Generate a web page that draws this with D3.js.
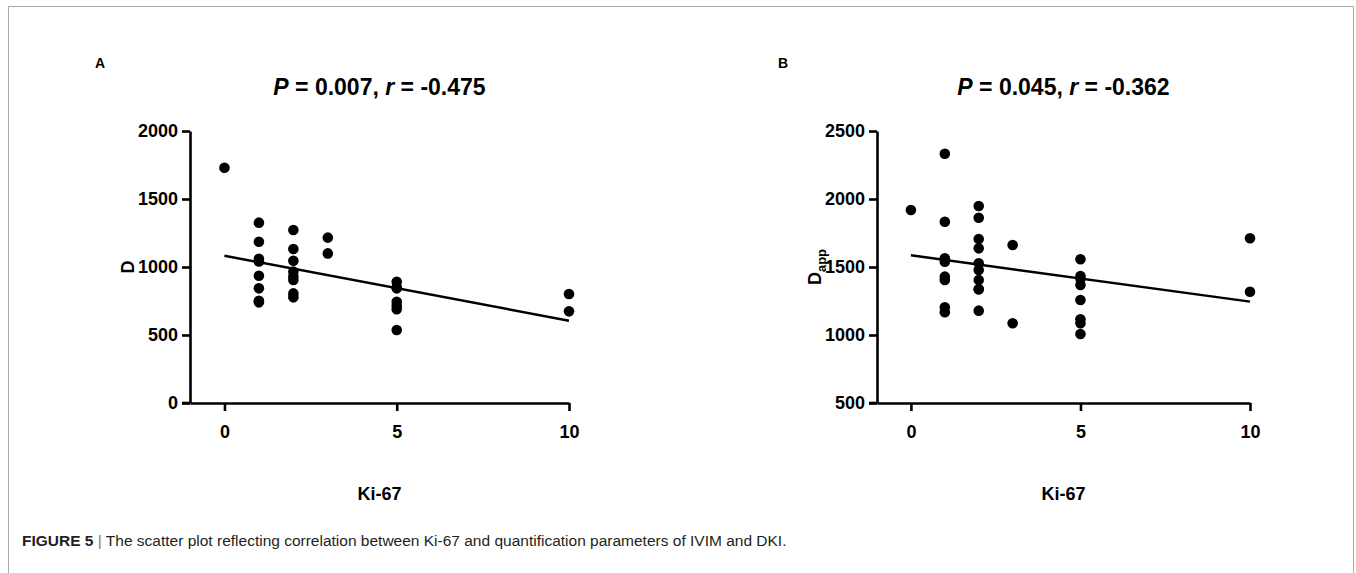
<!DOCTYPE html>
<html>
<head>
<meta charset="utf-8">
<script src="https://cdn.jsdelivr.net/npm/d3@7"></script>
<style>
  body { margin: 0; background: #fff; }
  svg { display: block; }
  text { font-family: "Liberation Sans", Arial, sans-serif; }
</style>
</head>
<body>
<div id="chart"></div>
<script>
// Ki-67 values on x, one entry per patient
var kiA = [0, 1,1,1,1,1,1,1,1, 2,2,2,2,2,2,2,2, 3,3, 5,5,5,5,5,5,5, 10,10];
var dA  = [1730, 1326,1186,1060,1040,936,843,752,740, 1272,1132,1046,966,930,904,806,777, 1216,1100, 892,851,843,745,715,689,537, 801,674];

var kiB = [0, 1,1,1,1,1,1,1,1, 2,2,2,2,2,2,2,2,2,2, 3,3, 5,5,5,5,5,5,5,5, 10,10];
var dB  = [1919, 2333,1833,1564,1539,1429,1404,1204,1167, 1948,1862,1706,1637,1527,1478,1404,1336,1336,1179, 1662,1086, 1557,1434,1415,1368,1257,1115,1086,1007, 1711,1318];

// fitted line end points (at Ki-67 = 0 and 10)
var fitA = [[0, 1083], [10, 605]];
var fitB = [[0, 1586], [10, 1245]];

var xTicks = [0, 5, 10];
var yTicksA = [0, 500, 1000, 1500, 2000];
var yTicksB = [500, 1000, 1500, 2000, 2500];

var W = 1356, H = 573;
var svg = d3.select("#chart").append("svg").attr("width", W).attr("height", H);

// frame
svg.append("path")
    .attr("d", "M8.5," + H + "V6.5H1353.5V" + H)
    .attr("fill", "none").attr("stroke", "#aaa").attr("stroke-width", 1);

function makePanel(opt) {
    var x = d3.scaleLinear().domain([-1, 10]).range([opt.x0, opt.x1]);
    var y = d3.scaleLinear().domain(opt.yDomain).range([403, 131]);
    var g = svg.append("g");

    var xAxis = g.append("g").attr("transform", "translate(0,403)")
        .call(d3.axisBottom(x).tickValues(xTicks).tickFormat(d3.format("d"))
            .tickSize(8).tickSizeOuter(0).tickPadding(14));
    var yAxis = g.append("g").attr("transform", "translate(" + opt.x0 + ",0)")
        .call(d3.axisLeft(y).tickValues(opt.yTicks).tickFormat(d3.format("d"))
            .tickSize(8).tickSizeOuter(0).tickPadding(4));

    [xAxis, yAxis].forEach(function(a) {
        a.attr("font-size", 18).attr("font-family", "'Liberation Sans', Arial, sans-serif");
        a.select(".domain").attr("stroke", "#000").attr("stroke-width", 2.6);
        a.selectAll(".tick line").attr("stroke", "#000").attr("stroke-width", 2.6);
        a.selectAll(".tick text").attr("fill", "#000").style("font-weight", "bold");
    });
    // extend x axis to meet the y tick at the origin
    g.append("line").attr("x1", opt.x0 - 8).attr("x2", opt.x0).attr("y1", 403).attr("y2", 403)
        .attr("stroke", "#000").attr("stroke-width", 2.6);

    g.append("line")
        .attr("x1", x(opt.fit[0][0])).attr("y1", y(opt.fit[0][1]))
        .attr("x2", x(opt.fit[1][0])).attr("y2", y(opt.fit[1][1]))
        .attr("stroke", "#000").attr("stroke-width", 2.4);

    g.selectAll("circle.pt").data(opt.xs).enter().append("circle")
        .attr("class", "pt")
        .attr("cx", function(d) { return x(d); })
        .attr("cy", function(d, i) { return y(opt.ys[i]); })
        .attr("r", 5.3)
        .attr("fill", "#000");

    var cx = (opt.x0 + opt.x1) / 2;
    var t = g.append("text").attr("x", cx).attr("y", 95).attr("text-anchor", "middle")
        .style("font-size", "23px").style("font-weight", "bold");
    t.append("tspan").style("font-style", "italic").text("P");
    t.append("tspan").text(" = " + opt.p + ", ");
    t.append("tspan").style("font-style", "italic").text("r");
    t.append("tspan").text(" = " + opt.r);

    g.append("text").attr("x", opt.labX).attr("y", 68)
        .style("font-size", "14px").style("font-weight", "bold").text(opt.letter);

    g.append("text").attr("x", cx).attr("y", 500).attr("text-anchor", "middle")
        .style("font-size", "18px").style("font-weight", "bold").text("Ki-67");

    var yl = g.append("text").attr("transform", "translate(" + opt.yLabX + ",267) rotate(-90)")
        .attr("text-anchor", "middle").style("font-size", "18px").style("font-weight", "bold");
    yl.append("tspan").text("D");
    if (opt.sub) {
        yl.append("tspan").attr("dy", 5).style("font-size", "13px").text(opt.sub);
    }
}

makePanel({ x0: 190, x1: 569, yDomain: [0, 2000], yTicks: yTicksA, xs: kiA, ys: dA, fit: fitA,
            p: "0.007", r: "-0.475", letter: "A", labX: 95, yLabX: 134, sub: null });
makePanel({ x0: 877, x1: 1250, yDomain: [500, 2500], yTicks: yTicksB, xs: kiB, ys: dB, fit: fitB,
            p: "0.045", r: "-0.362", letter: "B", labX: 778, yLabX: 821, sub: "app" });

// caption
var cap = svg.append("text").attr("x", 22).attr("y", 546)
    .style("font-size", "15.5px").attr("fill", "#231f20");
cap.append("tspan").style("font-weight", "bold").text("FIGURE 5");
cap.append("tspan").attr("fill", "#777").text(" | ");
cap.append("tspan").text("The scatter plot reflecting correlation between Ki-67 and quantification parameters of IVIM and DKI.");
</script>
</body>
</html>
